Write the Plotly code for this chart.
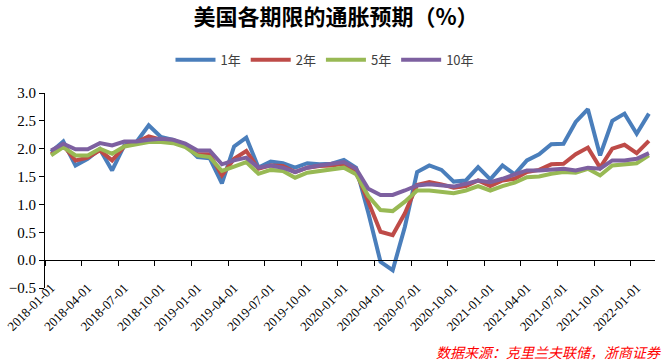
import pandas as pd
import plotly.graph_objects as go

months = [d.strftime("%Y-%m-%d") for d in pd.date_range("2018-01-01", "2022-02-01", freq="MS")]

y1 = [1.94, 2.13, 1.70, 1.82, 1.99, 1.61, 2.06, 2.12, 2.42, 2.21,
      2.16, 2.06, 1.85, 1.83, 1.38, 2.04, 2.20, 1.66, 1.77, 1.74,
      1.66, 1.74, 1.72, 1.73, 1.80, 1.66, 0.85, -0.03, -0.18, 0.60,
      1.58, 1.70, 1.62, 1.41, 1.43, 1.67, 1.45, 1.70, 1.54, 1.79,
      1.90, 2.08, 2.09, 2.48, 2.71, 1.88, 2.50, 2.63, 2.27, 2.63]
y2 = [1.90, 2.06, 1.79, 1.84, 1.97, 1.79, 2.04, 2.12, 2.22, 2.16,
      2.15, 2.06, 1.90, 1.90, 1.52, 1.82, 1.96, 1.64, 1.70, 1.69,
      1.58, 1.66, 1.69, 1.70, 1.73, 1.58, 1.05, 0.51, 0.45, 0.84,
      1.35, 1.40, 1.36, 1.30, 1.33, 1.43, 1.33, 1.43, 1.46, 1.58,
      1.62, 1.72, 1.73, 1.90, 2.02, 1.66, 2.00, 2.07, 1.92, 2.14]
y5 = [1.88, 2.03, 1.88, 1.88, 2.00, 1.91, 2.04, 2.08, 2.12, 2.12,
      2.10, 2.03, 1.88, 1.85, 1.60, 1.68, 1.76, 1.55, 1.62, 1.60,
      1.48, 1.57, 1.60, 1.62, 1.66, 1.54, 1.15, 0.90, 0.88, 1.05,
      1.25, 1.25, 1.22, 1.20, 1.25, 1.33, 1.25, 1.33, 1.39, 1.49,
      1.50, 1.55, 1.58, 1.57, 1.64, 1.52, 1.70, 1.72, 1.74, 1.88]
y10 = [1.97, 2.09, 1.99, 1.99, 2.10, 2.06, 2.13, 2.13, 2.16, 2.18,
       2.16, 2.09, 1.97, 1.97, 1.72, 1.79, 1.84, 1.66, 1.70, 1.66,
       1.58, 1.66, 1.70, 1.73, 1.76, 1.64, 1.28, 1.17, 1.17, 1.25,
       1.34, 1.36, 1.34, 1.32, 1.37, 1.43, 1.40, 1.46, 1.54, 1.61,
       1.61, 1.62, 1.64, 1.61, 1.66, 1.64, 1.79, 1.79, 1.82, 1.92]

series_names = ["1年", "2年", "5年", "10年"]
series_values = [y1, y2, y5, y10]
series_colors = ["#4A7EBB", "#BE4B48", "#98B954", "#7D60A0"]

x_idx = list(range(len(months)))
tick_idx = x_idx[::3]
tick_labels = [months[i] for i in tick_idx]
boundary_ticks = [i - 0.5 for i in tick_idx]

fig = go.Figure()
for name, vals, col in zip(series_names, series_values, series_colors):
    fig.add_trace(go.Scatter(x=x_idx, y=vals, name=name, mode="lines",
                             line=dict(color=col, width=4)))

serif = "Liberation Serif, Times New Roman, serif"
fig.update_layout(
    width=670, height=363,
    margin=dict(l=45, r=15, t=93, b=75, autoexpand=False),
    paper_bgcolor="white", plot_bgcolor="white",
    title=dict(text="<b>美国各期限的通胀预期（%）</b>", x=0.5015, xanchor="center",
               y=0.953, yanchor="middle", yref="container",
               font=dict(family="Noto Sans CJK SC", size=22, color="#000000")),
    legend=dict(orientation="h", x=0.459, xanchor="center", y=1.17, yanchor="middle",
                font=dict(family="Noto Sans CJK SC", size=13, color="#404040"),
                itemwidth=40, bgcolor="rgba(0,0,0,0)"),
    showlegend=True,
    xaxis=dict(range=[-0.5, 49.5], tickmode="array", tickvals=tick_idx, ticktext=tick_labels,
               tickangle=-45, ticks="", showgrid=False, zeroline=False,
               showline=True, linecolor="#000000", linewidth=1,
               anchor="free", position=0.5 / 3.5, automargin=False,
               tickfont=dict(family=serif, size=13, color="#000000"),
               ticklabelstandoff=14,
               minor=dict(tickmode="array", tickvals=boundary_ticks, ticks="outside",
                          ticklen=5, tickcolor="#000000", tickwidth=1, showgrid=False)),
    yaxis=dict(range=[-0.5, 3.0], dtick=0.5, tick0=0, tickformat=".1f", automargin=False,
               showgrid=False, zeroline=False, showline=True, linecolor="#000000",
               linewidth=1, ticks="outside", ticklen=5, tickcolor="#000000",
               tickfont=dict(family=serif, size=15, color="#000000")),
)

fig.add_annotation(text="数据来源：克里兰夫联储，浙商证券", xref="paper", yref="paper",
                   x=1.013, xanchor="right", y=-0.328, yanchor="middle", showarrow=False,
                   font=dict(family="Noto Sans CJK SC", size=14, color="#FF0000", style="italic"))

fig.write_html("out.html", config={"displayModeBar": False},
               post_script="document.body.style.margin='0';document.body.style.overflow='hidden';")
